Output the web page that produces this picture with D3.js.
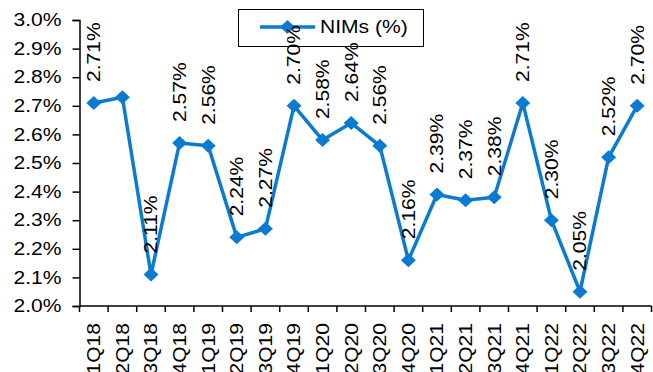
<!DOCTYPE html>
<html><head><meta charset="utf-8">
<script src="https://cdn.jsdelivr.net/npm/d3@7"></script>
<style>html,body{margin:0;padding:0;background:#fff;}svg{display:block;}</style>
</head><body>
<svg id="c" width="653" height="372"></svg>
<script>
const categories = ["1Q18","2Q18","3Q18","4Q18","1Q19","2Q19","3Q19","4Q19","1Q20","2Q20","3Q20","4Q20","1Q21","2Q21","3Q21","4Q21","1Q22","2Q22","3Q22","4Q22"];
const nims = [2.71,2.73,2.11,2.57,2.56,2.24,2.27,2.70,2.58,2.64,2.56,2.16,2.39,2.37,2.38,2.71,2.30,2.05,2.52,2.70];
const labels = ["2.71%","","2.11%","2.57%","2.56%","2.24%","2.27%","2.70%","2.58%","2.64%","2.56%","2.16%","2.39%","2.37%","2.38%","2.71%","2.30%","2.05%","2.52%","2.70%"];
const yTicks = [2.0,2.1,2.2,2.3,2.4,2.5,2.6,2.7,2.8,2.9,3.0];
const seriesName = "NIMs (%)";

const color = "#0a7bd0";
const font = "Liberation Sans, Arial, sans-serif";
const fs = 18, sx = 1.17;
const svg = d3.select("#c");
const L = 79.5, R = 651.5, T = 20, B = 306;

const x = d3.scaleBand().domain(categories).range([L, R]);
const y = d3.scaleLinear().domain([2.0, 3.0]).range([B, T]);

// y axis
const ya = svg.append("g").attr("transform", `translate(${L},0)`)
  .call(d3.axisLeft(y).tickValues(yTicks).tickSize(7).tickPadding(11).tickFormat(d => d.toFixed(1) + "%"));
ya.select(".domain").attr("stroke", "#000").attr("stroke-width", 1.5);
ya.selectAll(".tick line").attr("stroke", "#000").attr("stroke-width", 1.5);
ya.selectAll(".tick text").attr("font-family", font).attr("font-size", fs).attr("fill", "#000")
  .attr("transform", function(){ const xx = +d3.select(this).attr("x"); return `translate(${xx},0) scale(${sx},1) translate(${-xx},0)`; });

// x axis: ticks at band boundaries
const xa = svg.append("g").attr("transform", `translate(0,${B})`);
xa.append("line").attr("x1", L).attr("x2", R).attr("y1", 0).attr("y2", 0).attr("stroke", "#000").attr("stroke-width", 1.5);
const bounds = categories.map(c => x(c)).concat([x(categories[categories.length-1]) + x.bandwidth()]);
xa.selectAll("line.tk").data(bounds).join("line").attr("class","tk")
  .attr("x1", d => d).attr("x2", d => d).attr("y1", 0).attr("y2", 6).attr("stroke", "#000").attr("stroke-width", 1.5);
xa.selectAll("text").data(categories).join("text")
  .attr("transform", d => `translate(${x(d) + x.bandwidth()/2},17) rotate(-90) scale(${sx},1)`)
  .attr("dy", "0.35em").attr("text-anchor", "end")
  .attr("font-family", font).attr("font-size", fs).attr("fill", "#000").text(d => d);

// legend (drawn beneath labels)
const diamond = "M0,-7 L7.5,0 L0,7 L-7.5,0 Z";
const lg = svg.append("g");
lg.append("rect").attr("x", 238.5).attr("y", 9.5).attr("width", 185).attr("height", 37)
  .attr("fill", "#fff").attr("stroke", "#000").attr("stroke-width", 1);
lg.append("line").attr("x1", 260).attr("x2", 315).attr("y1", 27).attr("y2", 27).attr("stroke", color).attr("stroke-width", 3.5);
lg.append("path").attr("d", diamond).attr("fill", color).attr("transform", "translate(287.5,27)");
lg.append("text").attr("transform", "translate(320,27) scale(" + sx + ",1)").attr("dy", "0.35em")
  .attr("font-family", font).attr("font-size", fs).attr("fill", "#000").text(seriesName);

// line
const cx = (d, i) => x(categories[i]) + x.bandwidth()/2;
svg.append("path").datum(nims)
  .attr("d", d3.line().x(cx).y(d => y(d)))
  .attr("fill", "none").attr("stroke", color).attr("stroke-width", 3.5).attr("stroke-linejoin", "round");

svg.selectAll("path.mk").data(nims).join("path").attr("class","mk")
  .attr("d", diamond).attr("fill", color)
  .attr("transform", (d, i) => `translate(${cx(d,i)},${y(d)})`);

// data labels
svg.selectAll("text.lb").data(nims).join("text").attr("class","lb")
  .attr("transform", (d, i) => `translate(${cx(d,i)},${y(d) - 21}) rotate(-90) scale(${sx},1)`)
  .attr("dy", "0.35em").attr("text-anchor", "start")
  .attr("font-family", font).attr("font-size", fs).attr("fill", "#000")
  .text((d, i) => labels[i]);
</script>
</body></html>
